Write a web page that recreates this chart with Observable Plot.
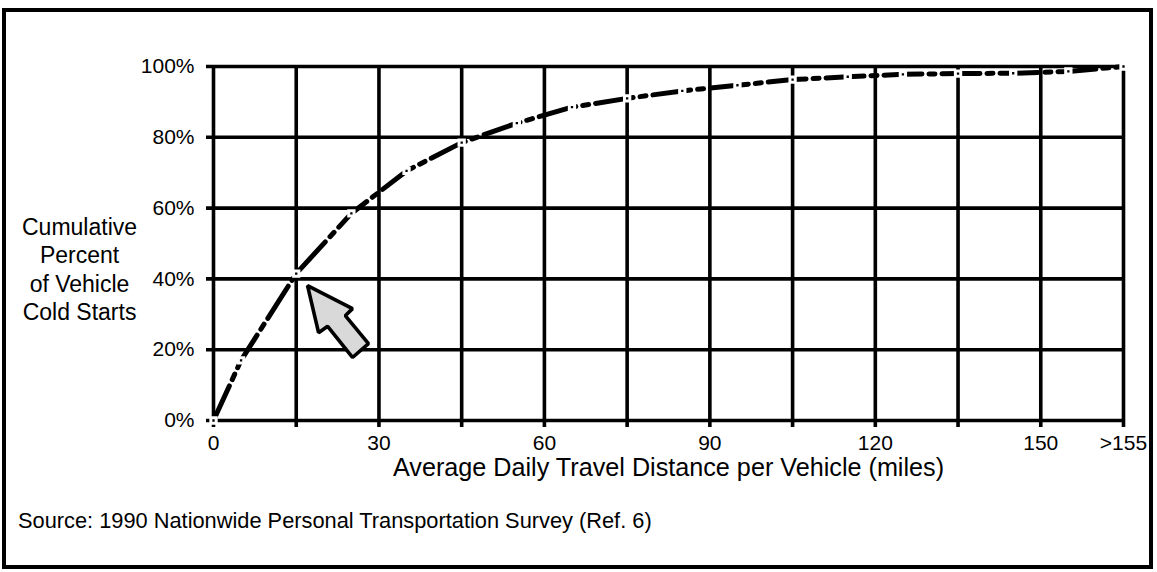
<!DOCTYPE html>
<html><head><meta charset="utf-8">
<script src="https://cdn.jsdelivr.net/npm/d3@7"></script>
<script src="https://cdn.jsdelivr.net/npm/@observablehq/plot@0.6"></script>
<style>
body{margin:0;background:#fff;font-family:"Liberation Sans",Arial,sans-serif;}
#wrap{position:relative;width:1157px;height:572px;overflow:hidden;background:#fff;}
#chart{position:absolute;left:0;top:0;}
#box{position:absolute;left:2px;top:8px;width:1143px;height:553px;border:4px solid #000;}
#caption{position:absolute;left:18px;top:508px;font-size:21.8px;color:#000;white-space:nowrap;}
</style></head><body>
<div id="wrap"><div id="chart"></div><div id="box"></div>
<div id="caption">Source: 1990 Nationwide Personal Transportation Survey (Ref. 6)</div></div>
<script>
// Data
const miles = [0, 5, 15, 25, 35, 45, 55, 65, 75, 85, 95, 105, 115, 125, 135, 145, 155, 165];
const cumulativePct = [0, 17, 41.5, 58.5, 70.5, 78.5, 84, 88.5, 91, 93.1, 94.7, 96.3, 97.1, 97.8, 98.0, 98.1, 98.6, 100];
const xGridTicks = [0, 15, 30, 45, 60, 75, 90, 105, 120, 135, 150, 165];
const xLabelTicks = [0, 30, 60, 90, 120, 150, 165];
const xLabelText = ["0", "30", "60", "90", "120", "150", ">155"];
const yTicks = [0, 20, 40, 60, 80, 100];
const yTitleLines = ["Cumulative", "Percent", "of Vehicle", "Cold Starts"];
const xTitle = "Average Daily Travel Distance per Vehicle (miles)";
// Annotation arrow outline (data units: miles, percent)
const arrowMiles = [17.05, 19.05, 20.7, 25.2, 28.1, 23.9, 25.2];
const arrowPct   = [38.1, 24.8, 26.6, 17.8, 21.7, 29.6, 31.6];

const points = miles.map((m, i) => ({m, p: cumulativePct[i]}));
const arrow = arrowMiles.map((m, i) => ({m, p: arrowPct[i]}));
const labelMap = new Map(xLabelTicks.map((d, i) => [d, xLabelText[i]]));

const chart = Plot.plot({
  width: 1157, height: 572,
  marginTop: 66, marginBottom: 152, marginLeft: 213, marginRight: 34,
  style: {fontFamily: "'Liberation Sans', Arial, sans-serif", fontSize: "20px", background: "transparent", color: "#000"},
  x: {domain: [0, 165], axis: null},
  y: {domain: [0, 100], axis: null},
  marks: [
    Plot.ruleX(xGridTicks, {stroke: "#000", strokeWidth: 3.6, insetBottom: -7}),
    Plot.ruleY(yTicks, {stroke: "#000", strokeWidth: 3.6, insetLeft: -7}),
    Plot.axisY(yTicks, {tickSize: 0, tickPadding: 19, tickFormat: d => d + "%", fontSize: 21, label: null}),
    Plot.axisX(xLabelTicks, {tickSize: 0, tickPadding: 15, tickFormat: d => labelMap.get(d), fontSize: 21, label: null}),
    Plot.text([xTitle], {frameAnchor: "bottom", dy: 55, fontSize: 25.2}),
    Plot.text([yTitleLines.join("\n")], {frameAnchor: "left", dx: -134, dy: 25, textAnchor: "middle", lineHeight: 1.24, fontSize: 23}),
    Plot.line(arrow, {x: "m", y: "p", curve: "linear-closed", fill: "#d9d9d9", stroke: "#000", strokeWidth: 3.6, strokeLinejoin: "miter"}),
    Plot.line(points, {x: "m", y: "p", stroke: "#000", strokeWidth: 5, strokeDasharray: "38,7,6,7"}),
    Plot.dot(points, {x: "m", y: "p", symbol: "square", r: 3, fill: "#000", stroke: "#fff", strokeWidth: 3})
  ]
});
document.getElementById("chart").appendChild(chart);
</script>
</body></html>
